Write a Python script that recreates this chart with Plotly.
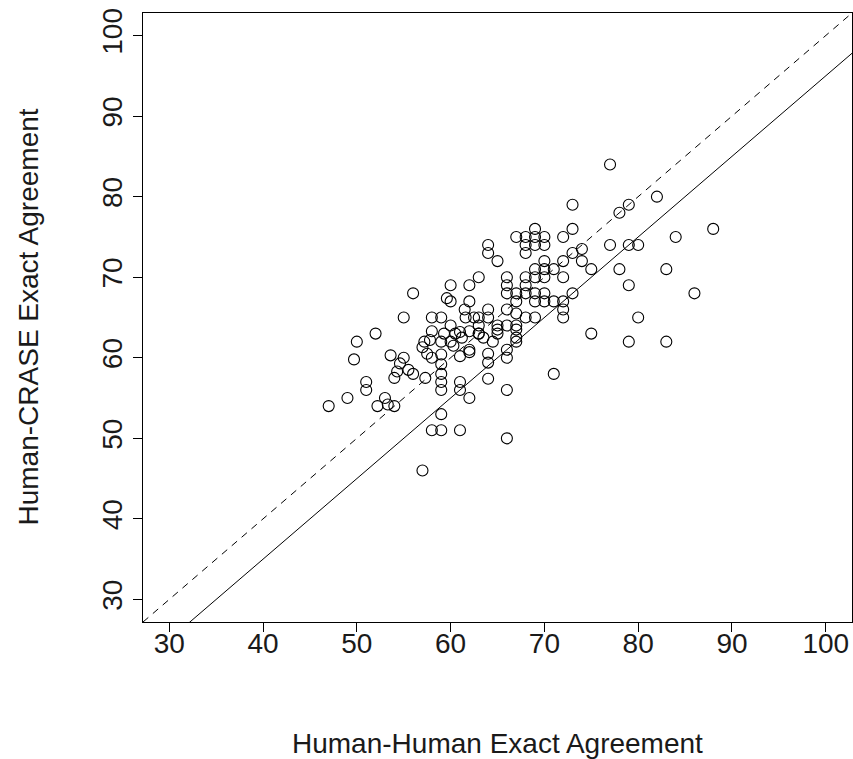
import plotly.graph_objects as go

# Human-Human exact agreement (x) and Human-CRASE exact agreement (y)
hh = [47, 49, 49.7, 50, 51, 51, 52, 52.2, 53, 53.3, 53.6, 54, 54, 54.3, 54.6, 55, 55, 55.5, 56, 56,
      57, 57.3, 57, 57.2, 57.8, 58, 58, 58, 58, 57.5, 59, 59, 59, 59, 59, 59, 59, 59, 59.6, 59.3, 59,
      60, 60, 60, 60, 60.3, 60.5, 61, 61, 61, 61, 61, 61.2, 61.5, 61.6, 62, 62, 62, 62, 62, 62, 63, 62.5,
      63, 63, 63, 63, 63.5, 64, 64, 64, 64, 64, 64, 64, 64.5, 65, 65, 65, 65,
      66, 66, 66, 66, 66, 66, 66, 66, 66, 67, 67, 67, 67, 67, 67, 67, 67,
      68, 68, 68, 68, 68, 68, 68, 69, 69, 69, 69, 69, 69, 69, 69,
      70, 70, 70, 70, 70, 70, 70, 71, 71, 71, 72, 72, 72, 72, 72, 72,
      73, 73, 73, 73, 74, 74, 75, 75,
      77, 77, 78, 78, 79, 79, 79, 79, 80, 80, 82, 83, 83, 84, 86, 88]
hc = [54, 55, 59.8, 62, 57, 56, 63, 54, 55, 54.2, 60.3, 54, 57.5, 58.3, 59.3, 60, 65, 58.5, 68, 58,
      46, 57.5, 61.3, 62, 62.2, 65, 60, 51, 63.3, 60.5, 65, 60.4, 59.2, 58, 57, 56, 53, 51, 67.4, 63, 62,
      69, 67, 64, 62, 61.5, 63, 63.2, 60.2, 57, 56, 51, 62.5, 66, 65, 69, 67, 61, 55, 60.7, 63.3, 63, 65,
      70, 65, 64, 63, 62.5, 74, 73, 66, 65, 60.5, 59.4, 57.4, 62, 72, 64, 63, 63.5,
      70, 69, 68, 66, 64, 61, 60, 56, 50, 75, 68, 67, 65.5, 64, 63.5, 62.5, 62,
      75, 74, 73, 70, 69, 68, 65, 76, 75, 74, 71, 70, 68, 67, 65,
      75, 74, 72, 71, 70, 68, 67, 71, 67, 58, 75, 72, 70, 67, 66, 65,
      79, 76, 73, 68, 73.5, 72, 71, 63,
      84, 74, 78, 71, 79, 74, 69, 62, 74, 65, 80, 71, 62, 75, 68, 76]

x_ticks = [30, 40, 50, 60, 70, 80, 90, 100]
y_ticks = [30, 40, 50, 60, 70, 80, 90, 100]
axis_range = [27.2, 102.8]
ref_intercepts = [0, -5]  # dashed y = x, solid y = x - 5

fig = go.Figure()
fig.add_trace(go.Scatter(
    x=axis_range, y=[v + ref_intercepts[0] for v in axis_range], mode="lines",
    line=dict(color="black", width=1, dash="7px,6px"), showlegend=False, hoverinfo="skip"))
fig.add_trace(go.Scatter(
    x=axis_range, y=[v + ref_intercepts[1] for v in axis_range], mode="lines",
    line=dict(color="black", width=1), showlegend=False, hoverinfo="skip"))
fig.add_trace(go.Scatter(
    x=hh, y=hc, mode="markers",
    marker=dict(symbol="circle-open", size=11, color="black", line=dict(width=1.1, color="black")),
    showlegend=False))

font_family = "Liberation Sans, Arial, sans-serif"
FS = 28
fig.update_layout(
    width=853, height=759,
    margin=dict(l=143, r=1, t=13, b=137, autoexpand=False),
    paper_bgcolor="white", plot_bgcolor="white",
    font=dict(family=font_family, size=FS, color="#1a1a1a"),
    xaxis=dict(range=axis_range, tickvals=x_ticks, ticktext=[str(t) for t in x_ticks],
               showgrid=False, zeroline=False, showline=True, mirror=True,
               linecolor="black", linewidth=1, ticks="outside", ticklen=9,
               tickcolor="black", tickwidth=1, ticklabelstandoff=-13,
               tickfont=dict(size=FS, color="#1a1a1a")),
    yaxis=dict(range=axis_range, tickvals=y_ticks, ticktext=[str(t) for t in y_ticks],
               showgrid=False, zeroline=False, showline=True, mirror=True,
               linecolor="black", linewidth=1, ticks="outside", ticklen=9,
               tickcolor="black", tickwidth=1, tickangle=-90,
               tickfont=dict(size=FS, color="#1a1a1a")),
    annotations=[
        dict(text="Human-Human Exact Agreement", xref="paper", yref="paper", x=0.5, y=0,
             xanchor="center", yanchor="middle", yshift=-121, showarrow=False,
             font=dict(size=FS, color="#1a1a1a")),
        dict(text="Human-CRASE Exact Agreement", xref="paper", yref="paper", x=0, y=0.5,
             xanchor="center", yanchor="middle", xshift=-115, textangle=-90, showarrow=False,
             font=dict(size=FS, color="#1a1a1a")),
    ],
)
fig.write_html("out.html", config={"displayModeBar": False},
               post_script="document.body.style.margin='0';document.body.style.overflow='hidden';")
